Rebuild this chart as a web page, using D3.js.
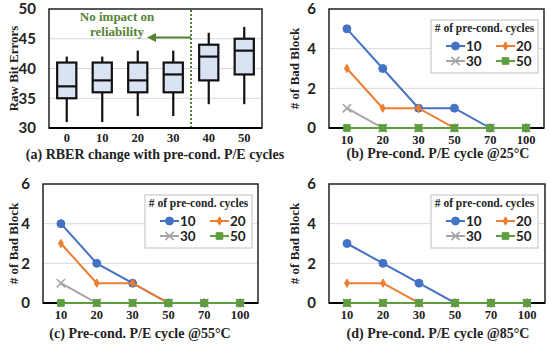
<!DOCTYPE html>
<html><head><meta charset="utf-8">
<script src="https://cdn.jsdelivr.net/npm/d3@7"></script>
<style>
html,body{margin:0;padding:0;background:#fff;}
svg{display:block;}
.serif{font-family:"Liberation Serif","Times New Roman",serif;font-weight:bold;}
.sans{font-family:Lato,"Open Sans",sans-serif;font-weight:bold;}
</style></head>
<body>
<script>
// ---- Data ----
const boxCats = ["0","10","20","30","40","50"];
const boxMin = [31,31,32,32,34,34];
const boxQ1  = [35,36,36,36,38,39];
const boxMed = [37,38,38,39,42,43];
const boxQ3  = [41,41,41,41,44,45];
const boxMax = [42,42,43,43,46,47];
const rberTicks = [30,35,40,45,50];

const peCats = ["10","20","30","50","70","100"];
const seriesNames = ["10","20","30","50"];
const badTicks = [0,2,4,6];

const b25_s10 = [5,3,1,1,0,0];
const b25_s20 = [3,1,1,0,0,0];
const b25_s30 = [1,0,0,0,0,0];
const b25_s50 = [0,0,0,0,0,0];

const b55_s10 = [4,2,1,0,0,0];
const b55_s20 = [3,1,1,0,0,0];
const b55_s30 = [1,0,0,0,0,0];
const b55_s50 = [0,0,0,0,0,0];

const b85_s10 = [3,2,1,0,0,0];
const b85_s20 = [1,1,0,0,0,0];
const b85_s30 = [0,0,0,0,0,0];
const b85_s50 = [0,0,0,0,0,0];

const seriesColors = ["#4472C4","#ED7D31","#A5A5A5","#5E9E3E"];
const seriesMarkers = ["circle","diamond","cross","square"];

const W = 550, H = 346;
const svg = d3.select("body").append("svg").attr("width", W).attr("height", H);

// ---- Panel (a): box plot ----
(function(){
  const L = 49, R = 262, T = 9, B = 128;
  const g = svg.append("g");
  const x = d3.scaleBand().domain(boxCats).range([L, R]);
  const y = d3.scaleLinear().domain([30, 50]).range([B, T]);
  g.selectAll(".grid").data(rberTicks.filter(t => t > 30 && t < 50)).enter().append("line")
    .attr("x1", L).attr("x2", R).attr("y1", d => y(d)).attr("y2", d => y(d))
    .attr("stroke", "#d9d9d9").attr("stroke-width", 1);
  g.append("rect").attr("x", L).attr("y", T).attr("width", R - L).attr("height", B - T)
    .attr("fill", "none").attr("stroke", "#222").attr("stroke-width", 1.5);
  g.append("line").attr("x1", L).attr("x2", R).attr("y1", B).attr("y2", B)
    .attr("stroke", "#000").attr("stroke-width", 2);
  const yAxis = d3.axisLeft(y).tickValues(rberTicks).tickFormat(d3.format("d")).tickSize(0).tickPadding(13);
  const ya = g.append("g").attr("transform", `translate(${L},0)`).call(yAxis);
  ya.select(".domain").remove();
  ya.selectAll("text").attr("class", "sans").style("font-size", "15px").attr("fill", "#222");
  const xAxis = d3.axisBottom(x).tickSize(0).tickPadding(5);
  const xa = g.append("g").attr("transform", `translate(0,${B})`).call(xAxis);
  xa.select(".domain").remove();
  xa.selectAll("text").attr("class", "serif").style("font-size", "12.5px").attr("fill", "#222");
  const bw = x.bandwidth() * 0.54;
  boxCats.forEach((c, i) => {
    const cx = x(c) + x.bandwidth() / 2;
    g.append("line").attr("x1", cx).attr("x2", cx).attr("y1", y(boxMax[i])).attr("y2", y(boxMin[i]))
      .attr("stroke", "#111").attr("stroke-width", 2.2);
    g.append("rect").attr("x", cx - bw / 2).attr("y", y(boxQ3[i])).attr("width", bw)
      .attr("height", y(boxQ1[i]) - y(boxQ3[i])).attr("fill", "#DAE3F3").attr("stroke", "#111").attr("stroke-width", 2.2);
    g.append("line").attr("x1", cx - bw / 2).attr("x2", cx + bw / 2).attr("y1", y(boxMed[i])).attr("y2", y(boxMed[i]))
      .attr("stroke", "#111").attr("stroke-width", 2.2);
  });
  const xd = (x("30") + x.bandwidth() / 2 + x("40") + x.bandwidth() / 2) / 2;
  g.append("line").attr("x1", xd).attr("x2", xd).attr("y1", T + 1).attr("y2", B - 1)
    .attr("stroke", "#548235").attr("stroke-width", 2).attr("stroke-dasharray", "2,2");
  const ay = y(45.2);
  g.append("line").attr("x1", xd).attr("x2", xd - 37).attr("y1", ay).attr("y2", ay)
    .attr("stroke", "#548235").attr("stroke-width", 2);
  g.append("path").attr("d", `M${xd-44},${ay} L${xd-35},${ay-4.5} L${xd-35},${ay+4.5} Z`).attr("fill", "#548235");
  g.append("text").attr("class", "serif").attr("x", 117).attr("y", 21).attr("text-anchor", "middle")
    .style("font-size", "13px").attr("fill", "#548235").text("No impact on");
  g.append("text").attr("class", "serif").attr("x", 117).attr("y", 36).attr("text-anchor", "middle")
    .style("font-size", "13px").attr("fill", "#548235").text("reliability");
  g.append("text").attr("class", "serif").attr("transform", `translate(13,${(T + B) / 2}) rotate(-90)`)
    .attr("text-anchor", "middle").attr("dy", "0.35em").style("font-size", "13px").attr("fill", "#222").text("Raw Bit Errors");
  g.append("text").attr("class", "serif").attr("x", 155).attr("y", 159).attr("text-anchor", "middle")
    .style("font-size", "14px").attr("fill", "#222").text("(a) RBER change with pre-cond. P/E cycles");
})();

// ---- Line panels ----
function markerPath(type, size) {
  if (type === "circle") return d3.symbol(d3.symbolCircle, size)();
  if (type === "diamond") return d3.symbol(d3.symbolDiamond, size)();
  if (type === "square") return d3.symbol(d3.symbolSquare, size)();
  const s = Math.sqrt(size) / 2;
  return `M${-s},${-s}L${s},${s}M${-s},${s}L${s},${-s}`;
}
function drawMarker(g, type, color, cx, cy) {
  const sizes = {circle: 50, diamond: 20, square: 44, cross: 70};
  const p = g.append("path").attr("d", markerPath(type, sizes[type])).attr("transform", `translate(${cx},${cy})`);
  if (type === "cross") p.attr("fill", "none").attr("stroke", color).attr("stroke-width", 1.6);
  else p.attr("fill", color).attr("stroke", color).attr("stroke-width", 1);
}

function linePanel(L, R, T, B, series, caption, yLabelX, capX, capY) {
  const g = svg.append("g");
  const x = d3.scaleBand().domain(peCats).range([L, R]);
  const y = d3.scaleLinear().domain([0, 6]).range([B, T]);
  const cx = c => x(c) + x.bandwidth() / 2;
  g.selectAll(".grid").data(badTicks.filter(t => t > 0 && t < 6)).enter().append("line")
    .attr("x1", L).attr("x2", R).attr("y1", d => y(d)).attr("y2", d => y(d))
    .attr("stroke", "#d9d9d9").attr("stroke-width", 1);
  g.append("rect").attr("x", L).attr("y", T).attr("width", R - L).attr("height", B - T)
    .attr("fill", "none").attr("stroke", "#222").attr("stroke-width", 1.5);
  g.append("line").attr("x1", L).attr("x2", R).attr("y1", B).attr("y2", B)
    .attr("stroke", "#000").attr("stroke-width", 2);
  const yAxis = d3.axisLeft(y).tickValues(badTicks).tickFormat(d3.format("d")).tickSize(0).tickPadding(13);
  const ya = g.append("g").attr("transform", `translate(${L},0)`).call(yAxis);
  ya.select(".domain").remove();
  ya.selectAll("text").attr("class", "sans").style("font-size", "15px").attr("fill", "#222");
  const xAxis = d3.axisBottom(x).tickSize(0).tickPadding(7);
  const xa = g.append("g").attr("transform", `translate(0,${B})`).call(xAxis);
  xa.select(".domain").remove();
  xa.selectAll("text").attr("class", "serif").style("font-size", "12.5px").attr("fill", "#222");

  const line = d3.line().x((d, i) => cx(peCats[i])).y(d => y(d));
  series.forEach((vals, si) => {
    g.append("path").datum(vals).attr("d", line).attr("fill", "none")
      .attr("stroke", seriesColors[si]).attr("stroke-width", 2);
    vals.forEach((v, i) => drawMarker(g, seriesMarkers[si], seriesColors[si], cx(peCats[i]), y(v)));
  });
  const lx = L + 102, ly = T + 11, lw = 107, lh = 53;
  const lg = g.append("g");
  lg.append("rect").attr("x", lx).attr("y", ly).attr("width", lw).attr("height", lh)
    .attr("fill", "#fff").attr("stroke", "#bfbfbf").attr("stroke-width", 1);
  lg.append("text").attr("class", "serif").attr("x", lx + lw / 2).attr("y", ly + 11.5).attr("text-anchor", "middle")
    .style("font-size", "11.5px").attr("fill", "#222").text("# of pre-cond. cycles");
  seriesNames.forEach((n, si) => {
    const col = si % 2, row = Math.floor(si / 2);
    const sx = lx + 15 + col * 50, sy = ly + 26 + row * 15;
    lg.append("line").attr("x1", sx).attr("x2", sx + 19).attr("y1", sy).attr("y2", sy)
      .attr("stroke", seriesColors[si]).attr("stroke-width", 2);
    drawMarker(lg, seriesMarkers[si], seriesColors[si], sx + 9.5, sy);
    lg.append("text").attr("class", "sans").attr("x", sx + 20).attr("y", sy).attr("dy", "0.36em")
      .style("font-size", "13.5px").attr("fill", "#222").text(n);
  });
  g.append("text").attr("class", "serif").attr("transform", `translate(${yLabelX},${(T + B) / 2}) rotate(-90)`)
    .attr("text-anchor", "middle").attr("dy", "0.35em").style("font-size", "13px").attr("fill", "#222").text("# of Bad Block");
  g.append("text").attr("class", "serif").attr("x", capX).attr("y", capY).attr("text-anchor", "middle")
    .style("font-size", "14px").attr("fill", "#222").text(caption);
}

linePanel(329, 544, 9, 128, [b25_s10, b25_s20, b25_s30, b25_s50], "(b) Pre-cond. P/E cycle @25\u00B0C", 294, 438, 158);
linePanel(43, 258, 184, 303, [b55_s10, b55_s20, b55_s30, b55_s50], "(c) Pre-cond. P/E cycle @55\u00B0C", 13, 140, 338);
linePanel(329, 545, 184, 303, [b85_s10, b85_s20, b85_s30, b85_s50], "(d) Pre-cond. P/E cycle @85\u00B0C", 294, 438, 338);
</script>
</body></html>
